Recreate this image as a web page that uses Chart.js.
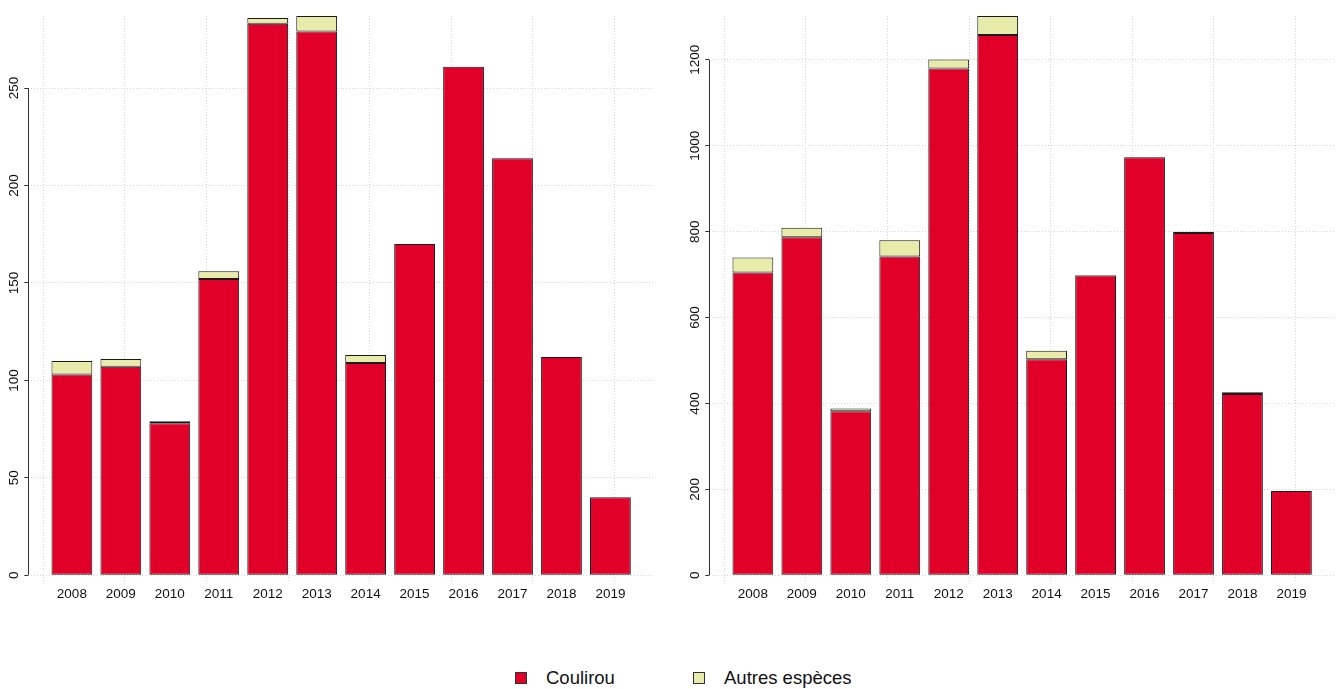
<!DOCTYPE html>
<html>
<head>
<meta charset="utf-8">
<script src="https://cdn.jsdelivr.net/npm/chart.js@4.4.1/dist/chart.umd.min.js"></script>
<style>
html, body { margin: 0; padding: 0; background: #fff; }
body { width: 1340px; height: 689px; position: relative; overflow: hidden; font-family: "Liberation Sans", Arial, sans-serif; }
.box { position: absolute; top: 0; height: 620px; }
#left { left: 0; width: 670px; }
#right { left: 681px; width: 659px; }
.leg { position: absolute; top: 668px; font-size: 18.5px; color: #111; display: flex; align-items: center; line-height: 20px; }
.sw { display: inline-block; width: 10px; height: 10px; border: 1px solid #333; margin-right: 19px; }
</style>
</head>
<body>
<div class="box" id="left"><canvas id="c1"></canvas></div>
<div class="box" id="right"><canvas id="c2"></canvas></div>
<div class="leg" style="left:515px"><span class="sw" style="background:#e10028"></span>Coulirou</div>
<div class="leg" style="left:693px"><span class="sw" style="background:#e9ebab"></span>Autres espèces</div>
<script>
var years = ['2008', '2009', '2010', '2011', '2012', '2013', '2014', '2015', '2016', '2017', '2018', '2019'];

// left panel
var coulirouL = [103, 107, 78, 152, 283, 279, 109, 170, 261, 214, 112, 40];
var autresL = [7, 4, 1, 4, 3, 8, 4, 0, 0, 0, 0, 0];
var yTicksL = [0, 50, 100, 150, 200, 250];

// right panel
var coulirouR = [705, 787, 382, 742, 1180, 1258, 503, 698, 973, 797, 422, 196];
var autresR = [35, 22, 6, 38, 21, 44, 20, 1, 1, 3, 4, 0];
var yTicksR = [0, 200, 400, 600, 800, 1000, 1200];

// vertical grid, in barplot units (bar width 1, space 0.2)
var gridX = [0, 2, 4, 6, 8, 10, 12, 14];

var RED = '#e10028';
var YELLOW = '#e9ebab';
var tickFont = { family: '"Liberation Sans", Arial, sans-serif', size: 13.5 };

// axis line only between first and last tick, like R
var axisLine = {
  id: 'axisLine',
  afterDraw: function (chart) {
    var s = chart.scales.y;
    var t = s.ticks;
    var ctx = chart.ctx;
    var x = Math.round(chart.chartArea.left) + 0.5;
    ctx.save();
    ctx.strokeStyle = '#333';
    ctx.lineWidth = 1;
    ctx.beginPath();
    ctx.moveTo(x, s.getPixelForValue(t[0].value));
    ctx.lineTo(x, s.getPixelForValue(t[t.length - 1].value));
    ctx.stroke();
    ctx.restore();
  }
};

function makeChart(id, red, yellow, yTicks, labelPad, rightPad) {
  var totals = red.map(function (v, i) { return v + yellow[i]; });
  var top = Math.max.apply(null, totals);

  return new Chart(document.getElementById(id), {
    type: 'bar',
    data: {
      datasets: [
        {
          label: 'Coulirou',
          data: red.map(function (v, i) { return { x: i, y: v }; }),
          backgroundColor: RED
        },
        {
          label: 'Autres espèces',
          data: yellow.map(function (v, i) { return { x: i, y: v }; }),
          backgroundColor: YELLOW
        }
      ]
    },
    options: {
      responsive: true,
      maintainAspectRatio: false,
      animation: false,
      layout: { padding: { top: 16, left: 0, right: rightPad, bottom: 0 } },
      datasets: {
        bar: {
          borderColor: '#1a1a1a',
          borderWidth: 1,
          borderSkipped: false,
          barPercentage: 1,
          categoryPercentage: 1 / 1.2
        }
      },
      plugins: { legend: { display: false }, tooltip: { enabled: false } },
      scales: {
        x: {
          type: 'linear',
          position: 'bottom',
          stacked: true,
          offset: false,
          min: -0.89,
          max: 11.89,
          afterBuildTicks: function (s) { s.ticks = years.map(function (y, i) { return { value: i }; }); },
          grid: { display: false, drawTicks: false, offset: false },
          border: { display: false },
          ticks: {
            callback: function (v) { return years[v]; },
            padding: 4,
            autoSkip: false,
            maxRotation: 0,
            font: tickFont,
            color: '#111'
          },
          afterFit: function (s) { s.height = 38; }
        },
        xg: {
          type: 'linear',
          position: 'bottom',
          offset: false,
          min: -0.368,
          max: 14.968,
          afterBuildTicks: function (s) { s.ticks = gridX.map(function (v) { return { value: v }; }); },
          ticks: { display: false },
          grid: { color: '#d6d6d6', drawTicks: false, offset: false },
          border: { display: false, dash: [1, 2] },
          afterFit: function (s) { s.height = 0; }
        },
        y: {
          stacked: true,
          min: -0.012 * top,
          max: top,
          afterBuildTicks: function (s) { s.ticks = yTicks.map(function (v) { return { value: v }; }); },
          grid: { color: '#d6d6d6', tickColor: '#333', tickLength: 4, tickBorderDash: [] },
          border: { display: false, dash: [1, 2] },
          ticks: {
            callback: function (v) { return String(v); },
            minRotation: 90,
            maxRotation: 90,
            crossAlign: 'center',
            padding: labelPad,
            autoSkip: false,
            font: tickFont,
            color: '#111'
          },
          afterFit: function (s) { s.width = 28.3; }
        }
      }
    },
    plugins: [axisLine]
  });
}

makeChart('c1', coulirouL, autresL, yTicksL, -1, 16);
makeChart('c2', coulirouR, autresR, yTicksR, -4.7, 5);
</script>
</body>
</html>
